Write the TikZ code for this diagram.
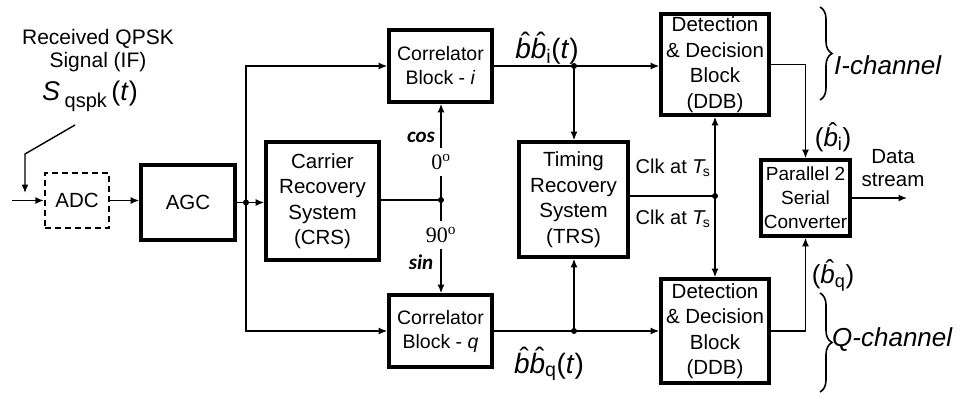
\documentclass[tikz,border=0pt]{standalone}
\usepackage{fontspec}
\setmainfont{Liberation Sans}
\newfontfamily\numserif{Liberation Serif}
\newfontfamily\calib{Carlito}
\usetikzlibrary{arrows.meta,decorations.pathreplacing}
\newcommand\bhat{\leavevmode\rlap{\kern0.2em\raisebox{0.2em}{\symbol{"02C6}}}\textit{b}}
\begin{document}
\begin{tikzpicture}[x=1pt,y=-1pt,
  blk/.style={draw,line width=3.6pt,align=center,inner sep=0pt,font=\fontsize{20.5}{25.5}\selectfont},
  conn/.style={line width=1.4pt},
  arr/.style={conn,-{Latex[length=8.5pt,width=7pt]}},
  dot/.style={circle,fill,inner sep=0pt,minimum size=6pt},
  lbl/.style={inner sep=0pt,font=\fontsize{20.5}{23}\selectfont,align=center},
  deg/.style={inner sep=6pt,font=\numserif\fontsize{22}{22}\selectfont},
  trig/.style={inner sep=0pt,font=\calib\bfseries\itshape\fontsize{21}{21}\selectfont},
  big/.style={inner sep=0pt,font=\fontsize{28}{28}\selectfont},
  chan/.style={inner sep=0pt,font=\itshape\fontsize{26}{26}\selectfont},
  brc/.style={line width=1.6pt,decorate,decoration={brace,amplitude=12pt}}]
\useasboundingbox (0,0) rectangle (975,392);

% blocks
\node[draw,line width=2.4pt,dash pattern=on 6pt off 4pt,inner sep=0pt,minimum width=64pt,minimum height=55pt,font=\fontsize{20.5}{25}\selectfont] (adc) at (77,200.5) {ADC};
\node[blk,minimum width=94pt,minimum height=75pt] (agc) at (188,202.5) {AGC};
\node[blk,minimum width=113pt,minimum height=118pt] (crs) at (322.5,201) {Carrier\\Recovery\\System\\(CRS)};
\node[blk,minimum width=103pt,minimum height=72pt,font=\fontsize{19.5}{24}\selectfont] (corri) at (440.5,66) {Correlator\\Block - \textit{i}};
\node[blk,minimum width=103pt,minimum height=72pt,font=\fontsize{19.5}{24}\selectfont] (corrq) at (440.5,331) {Correlator\\Block - \textit{q}};
\node[blk,minimum width=109pt,minimum height=115pt] (trs) at (573.5,199.5) {Timing\\Recovery\\System\\(TRS)};
\node[blk,minimum width=108pt,minimum height=101pt] (ddbt) at (715,64.5) {Detection\\\& Decision\\Block\\(DDB)};
\node[blk,minimum width=108pt,minimum height=104pt] (ddbb) at (715,331) {Detection\\\& Decision\\Block\\(DDB)};
\node[blk,minimum width=89pt,minimum height=76pt,font=\fontsize{19}{24}\selectfont] (p2s) at (805.5,198) {Parallel 2\\Serial\\Converter};

% input signal text
\node[lbl,font=\fontsize{21}{23}\selectfont] (rx) at (98,51) {Received QPSK\\Signal (IF)};
\node[inner sep=0pt,font=\fontsize{27}{27}\selectfont] (sq) at (90,96) {\textit{S}\,\raisebox{-7pt}{\fontsize{20}{20}\selectfont qspk}\,(\textit{t})};
\coordinate (s1) at (75,125);
\coordinate (s2) at (25,154);
\coordinate (s3) at (25,193);
\draw[arr] (s1) -- (s2) -- (s3);
\coordinate (in) at (12,200.5);
\draw[arr] (in) -- (adc.west);
\draw[arr] (adc.east) -- (adc.east -| agc.west);

% AGC split
\node[dot] (d1) at (246,202.5) {};
\draw[arr] (agc.east) -- (agc.east -| crs.west);
\draw[arr] (d1.center) |- (corri.west);
\draw[arr] (d1.center) |- (corrq.west);

% CRS outputs
\node[dot] (d2) at (441,200) {};
\draw[conn] (crs.east |- d2) -- (d2.center);
\node[deg] (zero) at (441,162) {0\textsuperscript{o}};
\node[deg] (ninety) at (441,235) {90\textsuperscript{o}};
\draw[conn] (d2.center) -- (zero);
\draw[arr] (zero) -- (zero |- corri.south);
\draw[conn] (d2.center) -- (ninety);
\draw[arr] (ninety) -- (ninety |- corrq.north);
\node[trig] (cos) at (421,137) {cos};
\node[trig] (sin) at (421,262) {sin};

% correlator outputs
\node[dot] (d3) at (574,66) {};
\node[dot] (d4) at (574,331) {};
\draw[arr] (corri.east) -- (corri.east -| ddbt.west);
\draw[arr] (corrq.east) -- (corrq.east -| ddbb.west);
\draw[arr] (d3.center) -- (d3 |- trs.north);
\draw[arr] (d4.center) -- (d4 |- trs.south);
\node[big] (bbi) at (547,48) {\bhat\bhat\textsubscript{i}(\textit{t})};
\node[big] (bbq) at (549,364) {\bhat\bhat\textsubscript{q}(\textit{t})};

% timing
\node[dot] (d5) at (715,196) {};
\draw[conn] (trs.east |- d5) -- (d5.center);
\draw[arr] (d5.center) -- (ddbt.south);
\draw[arr] (d5.center) -- (ddbb.north);
\node[lbl,font=\fontsize{20}{23}\selectfont] (clk1) at (673,168) {Clk at \textit{T}\kern-3pt\textsubscript{s}};
\node[lbl,font=\fontsize{20}{23}\selectfont] (clk2) at (673,219) {Clk at \textit{T}\kern-3pt\textsubscript{s}};

% to P2S
\draw[arr] (ddbt.east) -| (p2s.north);
\draw[arr] (ddbb.east) -| (p2s.south);
\node[inner sep=0pt,font=\fontsize{26}{26}\selectfont] (bi) at (833,137) {(\bhat\textsubscript{i})};
\node[inner sep=0pt,font=\fontsize{26}{26}\selectfont] (bq) at (833,275) {(\bhat\textsubscript{q})};
\coordinate (out) at (907,198);
\draw[arr] (p2s.east) -- (out);
\node[lbl] (ds) at (893,168) {Data\\stream};

% channels
\draw[brc] (820,7) -- (820,100);
\draw[brc] (820,293) -- (820,392);
\node[chan,anchor=west] (ich) at (834,65) {I-channel};
\node[chan,anchor=west] (qch) at (832,340) {Q-channel};
\end{tikzpicture}
\end{document}
